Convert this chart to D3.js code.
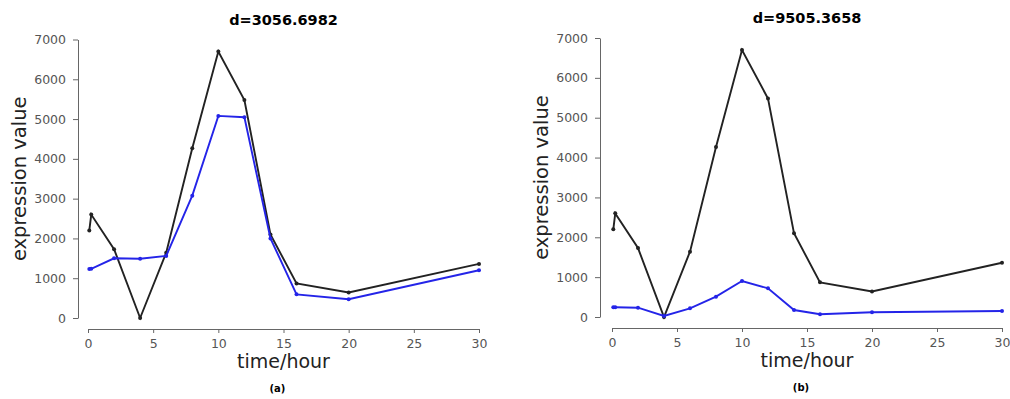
<!DOCTYPE html>
<html>
<head>
<meta charset="utf-8">
<script src="https://cdn.jsdelivr.net/npm/d3@7"></script>
<style>
  body { margin: 0; background: #fff; }
  svg { display: block; }
  .tick text { font-family: "DejaVu Sans", sans-serif; font-size: 12.5px; fill: #555; }
  .tick line, .domain { stroke: #666; }
</style>
</head>
<body>
<svg id="canvas" width="1010" height="399"></svg>
<script>
// time points (hours)
const times = [0.1, 0.25, 2, 4, 6, 8, 10, 12, 14, 16, 20, 30]

// black: reference profile (same in both panels)
const refValues = [2200, 2600, 1730, 0, 1640, 4265, 6700, 5480, 2100, 870, 640, 1360]
// blue: compared profiles
const blueA = [1230, 1235, 1500, 1490, 1560, 3075, 5080, 5045, 2000, 595, 470, 1200]
const blueB = [243, 243, 233, 25, 218, 510, 903, 720, 176, 68, 118, 150]

const yTicks = [0, 1000, 2000, 3000, 4000, 5000, 6000, 7000]
const xTicks = [0, 5, 10, 15, 20, 25, 30]

const panels = [
  { title: "d=3056.6982", label: "(a)", blue: blueA,
    x0: 88, x1: 479, yTop: 39.5, yBot: 318, yAxisX: 78, xAxisY: 329, titleY: 25, ylabX: 20 },
  { title: "d=9505.3658", label: "(b)", blue: blueB,
    x0: 612, x1: 1002, yTop: 38, yBot: 317, yAxisX: 600, xAxisY: 328, titleY: 23, ylabX: 542 }
]

const canvas = d3.select("#canvas")

const drawPanel = (p) => {
  const g = canvas.append("g")
  const x = d3.scaleLinear().domain([0, 30]).range([p.x0, p.x1])
  const y = d3.scaleLinear().domain([0, 7000]).range([p.yBot, p.yTop])

  g.append("g")
   .attr("transform", `translate(${p.yAxisX},0)`)
   .call(d3.axisLeft(y).tickValues(yTicks).tickFormat(d3.format("d"))
     .tickSize(5).tickSizeOuter(0).tickPadding(7))

  g.append("g")
   .attr("transform", `translate(0,${p.xAxisY})`)
   .call(d3.axisBottom(x).tickValues(xTicks).tickFormat(d3.format("d"))
     .tickSize(4).tickSizeOuter(0).tickPadding(6))

  const line = d3.line().x((d, i) => x(times[i])).y(d => y(d))

  const series = [
    { values: refValues, color: "#222" },
    { values: p.blue, color: "#2424e8" }
  ]
  series.forEach(s => {
    g.append("path")
     .datum(s.values)
     .attr("d", line)
     .attr("fill", "none")
     .attr("stroke", s.color)
     .attr("stroke-width", 1.9)
    g.selectAll(null)
     .data(s.values)
     .enter()
     .append("circle")
     .attr("cx", (d, i) => x(times[i]))
     .attr("cy", d => y(d))
     .attr("r", 2)
     .attr("fill", s.color)
  })

  const cx = (p.x0 + p.x1) / 2
  g.append("text")
   .attr("x", cx).attr("y", p.titleY)
   .attr("text-anchor", "middle")
   .style("font-family", "DejaVu Sans").style("font-weight", "bold").style("font-size", "14.5px")
   .text(p.title)

  g.append("text")
   .attr("x", cx).attr("y", p.xAxisY + 39)
   .attr("text-anchor", "middle")
   .style("font-family", "DejaVu Sans").style("font-size", "19px").style("fill", "#222")
   .text("time/hour")

  g.append("text")
   .attr("transform", `translate(${p.ylabX + 6},${(p.yTop + p.yBot) / 2}) rotate(-90)`)
   .attr("text-anchor", "middle")
   .style("font-family", "DejaVu Sans").style("font-size", "19.5px").style("fill", "#222")
   .text("expression value")

  g.append("text")
   .attr("x", cx - 6).attr("y", p.xAxisY + 63)
   .attr("text-anchor", "middle")
   .style("font-family", "DejaVu Sans").style("font-weight", "bold").style("font-size", "10px")
   .text(p.label)
}

panels.forEach(drawPanel)
</script>
</body>
</html>
